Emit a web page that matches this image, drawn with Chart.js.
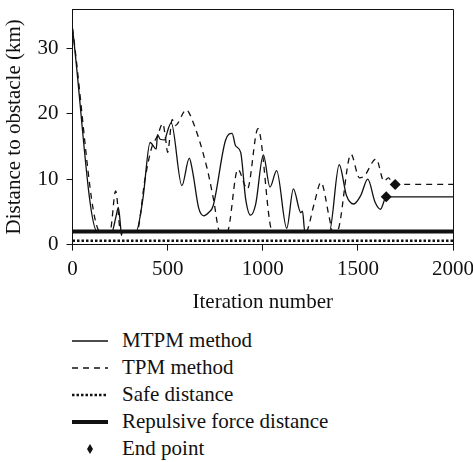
<!DOCTYPE html>
<html>
<head>
<meta charset="utf-8">
<script src="https://cdn.jsdelivr.net/npm/chart.js@4"></script>
<style>
  body { margin: 0; background: #fff; }
  #wrap { position: relative; width: 473px; height: 462px; }
  #myChart { position: absolute; left: 0; top: 0; }
  .legend { position: absolute; left: 72px; top: 327px; font-family: "Liberation Serif", "Times New Roman", "DejaVu Serif", serif; font-size: 21px; color: #111; }
  .legend div { height: 27px; display: flex; align-items: center; }
  .legend svg { width: 36px; height: 12px; margin-right: 14px; }
</style>
</head>
<body>
<div id="wrap">
  <canvas id="myChart" width="473" height="319"></canvas>
  <div class="legend">
    <div><svg><line x1="0" y1="6" x2="36" y2="6" stroke="#111" stroke-width="1.3"/></svg>MTPM method</div>
    <div><svg><line x1="0" y1="6" x2="36" y2="6" stroke="#111" stroke-width="1.3" stroke-dasharray="6,5"/></svg>TPM method</div>
    <div><svg><line x1="0" y1="6" x2="36" y2="6" stroke="#111" stroke-width="2.5" stroke-dasharray="2.5,2"/></svg>Safe distance</div>
    <div><svg><line x1="0" y1="6" x2="36" y2="6" stroke="#111" stroke-width="4"/></svg>Repulsive force distance</div>
    <div><svg><polygon points="18,1 21,6 18,11 15,6" fill="#111"/></svg>End point</div>
  </div>
</div>
<script>
// values
const mtpmX = [0, 130, 207, 228, 241, 252, 257, 262, 334, 370, 408, 440, 447, 461, 487, 493, 519, 575, 614, 628, 637, 663, 690, 716, 739, 804, 839, 857, 884, 910, 936, 963, 1003, 1038, 1073, 1126, 1161, 1200, 1209, 1221, 1350, 1402, 1440, 1478, 1515, 1552, 1590, 1619, 1649, 2000]
const mtpmY = [33, 2, 2, 4.2, 5.7, 3, 1.4, 2, 2, 7, 15.6, 14.6, 16.8, 16.1, 16.0, 16.7, 18.6, 9.0, 13.2, 11.7, 10.2, 5.6, 4.4, 4.9, 5.9, 15.9, 17.0, 15.1, 14.1, 7, 4.5, 6.2, 13.7, 8.8, 11.3, 2.5, 8.5, 4.9, 5.1, 2, 2, 12.2, 7.5, 6.2, 7.5, 10.0, 6.5, 5.4, 7.3, 7.3]

const tpmX = [0, 145, 197, 227, 253, 338, 382, 417, 445, 475, 490, 500, 524, 540, 598, 623, 707, 742, 774, 813, 869, 919, 975, 1051, 1227, 1270, 1306, 1350, 1367, 1390, 1464, 1508, 1534, 1596, 1637, 1661, 1675, 1696, 2000]
const tpmY = [33, 2, 2, 8.2, 2, 2, 10.2, 14.9, 16.5, 18.5, 16, 14.1, 19.1, 18.2, 20.6, 19.5, 11.7, 6.8, 2, 2, 11.5, 8.5, 17.7, 2, 2, 6.2, 9.5, 4.1, 2, 2, 13.8, 10.2, 10.5, 13.1, 9.7, 10.2, 9.7, 9.2, 9.2]

const endX = [1649, 1696]
const endY = [7.3, 9.2]

const safeDistance = 0.6
const repulsiveDistance = 2
const xRange = [0, 2000]
const yTicks = [0, 10, 20, 30]

function pts(xs, ys) {
    return xs.map(function (x, i) { return { x: x, y: ys[i] } })
}

const font = { family: '"Liberation Serif", "Times New Roman", "DejaVu Serif", serif', size: 21 }

const framePlugin = {
    id: 'frame',
    afterDatasetsDraw(chart) {
        const a = chart.chartArea
        const c = chart.ctx
        c.save()
        c.strokeStyle = '#111'
        c.lineWidth = 1
        c.beginPath()
        c.moveTo(a.left, a.top + 0.5)
        c.lineTo(a.right + 0.5, a.top + 0.5)
        c.lineTo(a.right + 0.5, a.bottom)
        c.stroke()
        c.restore()
    }
}

function noPad(s) {
    s.paddingLeft = 0
    s.paddingRight = 0
    s.paddingTop = 0
    s.paddingBottom = 0
}

const ctx = document.getElementById('myChart')

new Chart(ctx, {
    type: 'line',
    data: {
        datasets: [
            {
                label: 'Repulsive force distance',
                data: pts(xRange, [repulsiveDistance, repulsiveDistance]),
                borderColor: '#111',
                borderWidth: 4,
                pointRadius: 0
            },
            {
                label: 'Safe distance',
                data: pts(xRange, [safeDistance, safeDistance]),
                borderColor: '#111',
                borderWidth: 2.5,
                borderDash: [2.5, 2],
                pointRadius: 0
            },
            {
                label: 'TPM method',
                data: pts(tpmX, tpmY),
                borderColor: '#111',
                borderWidth: 1.3,
                borderDash: [6, 5],
                pointRadius: 0,
                cubicInterpolationMode: 'monotone'
            },
            {
                label: 'MTPM method',
                data: pts(mtpmX, mtpmY),
                borderColor: '#111',
                borderWidth: 1.3,
                pointRadius: 0,
                cubicInterpolationMode: 'monotone'
            },
            {
                label: 'End point',
                data: pts(endX, endY),
                showLine: false,
                pointStyle: 'rectRot',
                pointRadius: 5.5,
                backgroundColor: '#111',
                borderColor: '#111',
                borderWidth: 0
            }
        ]
    },
    options: {
        responsive: false,
        animation: false,
        layout: { padding: { top: 9, right: 20, left: 0, bottom: 0 } },
        scales: {
            x: {
                type: 'linear',
                min: xRange[0],
                max: xRange[1],
                afterFit: noPad,
                ticks: { stepSize: 500, font: font, color: '#111', padding: 6, maxRotation: 0, callback: function (v) { return String(v) } },
                grid: { drawOnChartArea: false, tickLength: 6, color: '#111' },
                border: { color: '#111', width: 1 },
                title: { display: true, text: 'Iteration number', font: font, color: '#111', padding: { top: 2 } }
            },
            y: {
                min: 0,
                max: 36,
                afterBuildTicks: function (s) { s.ticks = yTicks.map(function (v) { return { value: v } }) },
                afterFit: function (s) { noPad(s); s.width = 72.5 },
                ticks: { font: font, color: '#111', padding: 8 },
                grid: { drawOnChartArea: false, tickLength: 6, color: '#111' },
                border: { color: '#111', width: 1 },
                title: { display: true, text: 'Distance to obstacle (km)', font: font, color: '#111', padding: 2 }
            }
        },
        plugins: {
            legend: { display: false },
            tooltip: { enabled: false }
        }
    },
    plugins: [framePlugin]
}
);
</script>
</body>
</html>
